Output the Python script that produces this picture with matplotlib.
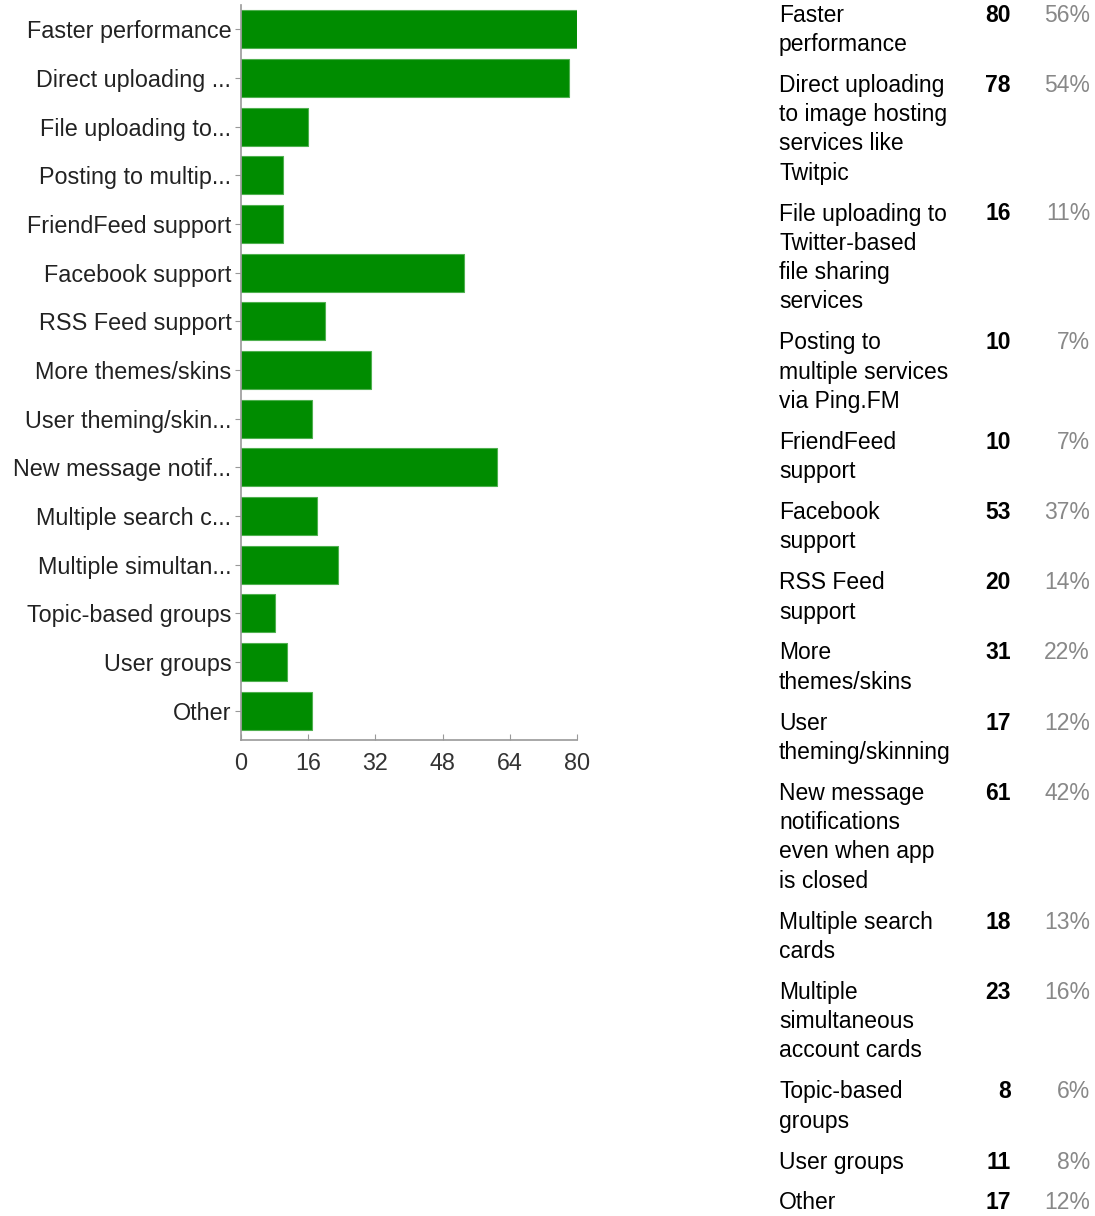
import matplotlib.pyplot as plt

# survey answers: short axis labels, full wrapped labels for the table, counts, percents
short_labels = ["Faster performance", "Direct uploading ...", "File uploading to...",
                "Posting to multip...", "FriendFeed support", "Facebook support",
                "RSS Feed support", "More themes/skins", "User theming/skin...",
                "New message notif...", "Multiple search c...", "Multiple simultan...",
                "Topic-based groups", "User groups", "Other"]
table_labels = ["Faster\nperformance",
                "Direct uploading\nto image hosting\nservices like\nTwitpic",
                "File uploading to\nTwitter-based\nfile sharing\nservices",
                "Posting to\nmultiple services\nvia Ping.FM",
                "FriendFeed\nsupport",
                "Facebook\nsupport",
                "RSS Feed\nsupport",
                "More\nthemes/skins",
                "User\ntheming/skinning",
                "New message\nnotifications\neven when app\nis closed",
                "Multiple search\ncards",
                "Multiple\nsimultaneous\naccount cards",
                "Topic-based\ngroups",
                "User groups",
                "Other"]
counts = [80, 78, 16, 10, 10, 53, 20, 31, 17, 61, 18, 23, 8, 11, 17]
percents = ["56%", "54%", "11%", "7%", "7%", "37%", "14%", "22%", "12%",
            "42%", "13%", "16%", "6%", "8%", "12%"]
x_ticks = [0, 16, 32, 48, 64, 80]

plt.rcParams['font.family'] = ['Liberation Sans', 'DejaVu Sans']

W, H = 1095, 1216
fig = plt.figure(figsize=(W / 100, H / 100), dpi=100)

# bar chart on the left
ax = fig.add_axes([241 / W, 1 - 740 / H, (577 - 241) / W, 735 / H])
pos = list(range(len(counts)))
ax.barh(pos, counts, height=0.78, color='#008c00', edgecolor='#4fb04f', linewidth=0.8)
ax.set_xlim(0, 80)
ax.set_ylim(14.6, -0.5)
ax.set_yticks(pos)
ax.set_yticklabels(short_labels, fontsize=16.8, color='#222222')
ax.set_xticks(x_ticks)
ax.set_xticklabels([str(t) for t in x_ticks], fontsize=16.8, color='#333333')
for side in ['top', 'right']:
    ax.spines[side].set_visible(False)
for side in ['left', 'bottom']:
    ax.spines[side].set_color('#999999')
    ax.spines[side].set_linewidth(1.2)
ax.tick_params(axis='y', length=4, color='#999999', pad=3)
ax.tick_params(axis='x', direction='in', length=4, color='#999999', pad=9)

# table on the right, rows stacked by their number of lines
line_px = 29.3
gap_px = 11.6
y = 15
for lab, c, p in zip(table_labels, counts, percents):
    n = lab.count("\n") + 1
    for i, line in enumerate(lab.split("\n")):
        fig.text(779 / W, 1 - (y + i * line_px) / H, line, fontsize=16.5,
                 color='black', va='center', ha='left')
    fig.text(1011 / W, 1 - y / H, str(c), fontsize=16.5, fontweight='bold',
             color='black', va='center', ha='right')
    fig.text(1090 / W, 1 - y / H, p, fontsize=16.5, color='#888888',
             va='center', ha='right')
    y += n * line_px + gap_px

fig.savefig("out.png", dpi=100)
